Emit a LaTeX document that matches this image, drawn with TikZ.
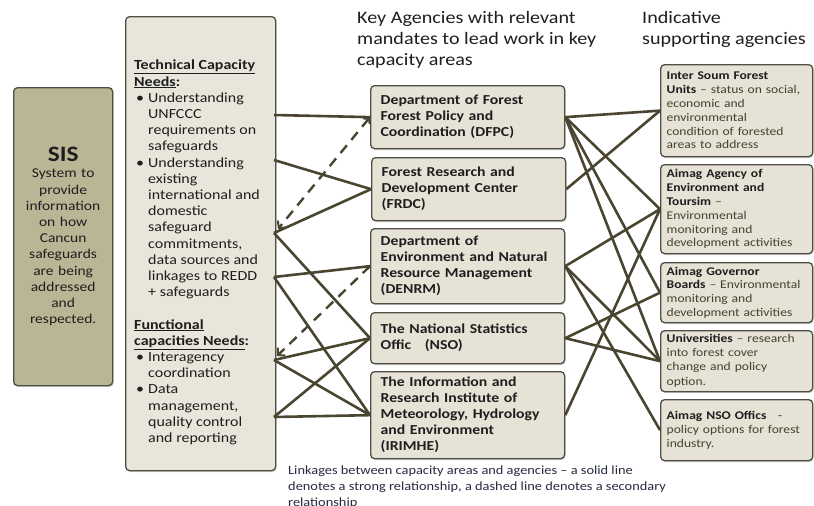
\documentclass[tikz,border=0pt]{standalone}
\usepackage{fontspec}
\setmainfont{Carlito}[FakeStretch=1.15]
\usetikzlibrary{arrows.meta,shadows}
\definecolor{sisfill}{HTML}{B9B595}
\definecolor{boxfill}{HTML}{E6E3D6}
\definecolor{needfill}{HTML}{E8E6DB}
\definecolor{boxline}{HTML}{4F4E44}
\definecolor{linkc}{HTML}{4A4530}
\definecolor{ink}{HTML}{1E1E1E}
\definecolor{soft}{HTML}{45432F}
\definecolor{capc}{HTML}{262B3F}
\newcommand\hd[1]{\textcolor{ink}{\bfseries #1}}
\newcommand\bul{\makebox[14pt][l]{\hspace{2pt}\textbullet}}
\newcommand\ind{\hspace*{14pt}}
\hyphenpenalty=10000
\begin{document}
\begin{tikzpicture}[x=1pt,y=-1pt,
  castshadow/.style={drop shadow={shadow xshift=1pt,shadow yshift=-1.5pt,opacity=0.3}},
  panel/.style={draw=boxline,line width=1.3pt,rounded corners=4pt,anchor=north west,inner ysep=0pt,castshadow},
  midbox/.style={panel,fill=boxfill,minimum width=194pt,minimum height=#1,inner xsep=10pt,text width=174pt,align=left,text=ink,font=\fontsize{13.7}{16}\selectfont\bfseries},
  sidebox/.style={panel,fill=boxfill,minimum width=152pt,minimum height=#1,inner xsep=6pt,text width=140pt,align=left,text=soft,font=\fontsize{11.8}{13.8}\selectfont},
  strongline/.style={draw=linkc,line width=2.6pt},
  weakline/.style={draw=linkc,line width=2.4pt,dash pattern=on 10pt off 7pt},
  tipend/.style={arrows={-Straight Barb[length=5pt,width=11pt,line width=2pt]}},
  tipboth/.style={arrows={Straight Barb[length=4pt,width=8pt,line width=2pt]-Straight Barb[length=5pt,width=11pt,line width=2pt]}}
]
\useasboundingbox (0,0) rectangle (814,506);

% headings
\node[anchor=north west,inner sep=0pt,align=left,text=ink,font=\fontsize{17.5}{21}\selectfont] (headkey) at (357,11.5)
  {Key Agencies with relevant\\mandates to lead work in key\\capacity areas};
\node[anchor=north west,inner sep=0pt,align=left,text=ink,font=\fontsize{17.5}{21}\selectfont] (headsup) at (642,11.5)
  {Indicative\\supporting agencies};

% SIS
\node[panel,fill=sisfill,minimum width=99pt,minimum height=298pt,inner xsep=4pt,text width=91pt,align=center,text=ink,
  font=\fontsize{13.5}{16.2}\selectfont] (sis) at (13,87)
  {{\fontsize{22}{24}\selectfont\bfseries SIS}\\System to\\provide\\information\\on how\\Cancun\\safeguards\\are being\\addressed\\and\\respected.};

% capacity needs
\node[panel,fill=needfill,minimum width=150pt,minimum height=454pt] (needs) at (125,16) {};
\node[anchor=north west,inner sep=0pt,align=left,text=ink,font=\fontsize{13.9}{16.2}\selectfont] (needstext) at (134,60)
  {{\bfseries\underline{Technical Capacity}}\\
   {\bfseries\underline{Needs}:}\\
   \bul Understanding\\
   \ind UNFCCC\\
   \ind requirements on\\
   \ind safeguards\\
   \bul Understanding\\
   \ind existing\\
   \ind international and\\
   \ind domestic\\
   \ind safeguard\\
   \ind commitments,\\
   \ind data sources and\\
   \ind linkages to REDD\\
   \ind + safeguards\\[16.2pt]
   {\bfseries\underline{Functional}}\\
   {\bfseries\underline{capacities Needs}:}\\
   \bul Interagency\\
   \ind coordination\\
   \bul Data\\
   \ind management,\\
   \ind quality control\\
   \ind and reporting};

% key agencies
\node[midbox=63pt] (dfpc) at (370,85) {Department of Forest\\Forest Policy and\\Coordination (DFPC)};
\node[midbox=63pt] (frdc) at (371,157) {Forest Research and\\Development Center\\(FRDC)};
\node[midbox=75pt] (denrm) at (370,228) {Department of\\Environment and Natural\\Resource Management\\(DENRM)};
\node[midbox=51pt] (nso) at (370,312) {The National Statistics\\Offic\ \ \ (NSO)};
\node[midbox=87pt] (irimhe) at (370,371) {The Information and\\Research Institute of\\Meteorology, Hydrology\\and Environment\\(IRIMHE)};

% supporting agencies
\node[sidebox=92pt] (soum) at (660,64) {\hd{Inter Soum Forest}\\\hd{Units} – status on social,\\economic and\\environmental\\condition of forested\\areas to address};
\node[sidebox=89pt] (agency) at (660,164) {\hd{Aimag Agency of}\\\hd{Environment and}\\\hd{Toursim} –\\Environmental\\monitoring and\\development activities};
\node[sidebox=60pt] (governor) at (660,262) {\hd{Aimag Governor}\\\hd{Boards} – Environmental\\monitoring and\\development activities};
\node[sidebox=61pt] (univ) at (660,330) {\hd{Universities} – research\\into forest cover\\change and policy\\[1.5pt]option.};
\node[sidebox=61pt] (nsooff) at (660,399) {\hd{Aimag NSO Offics}\ \ \ -\\policy options for forest\\industry.};

% caption
\node[anchor=north west,inner sep=0pt,align=left,text=capc,font=\fontsize{12.5}{16}\selectfont] (caption) at (288,465.5)
  {Linkages between capacity areas and agencies – a solid line\\denotes a strong relationship, a dashed line denotes a secondary\\relationship};

% attachment points on the needs panel
\coordinate (l1) at (274,115);
\coordinate (l2) at (274,160);
\coordinate (l3) at (274,233);
\coordinate (l4) at (274,277);
\coordinate (l5) at (274,360);
\coordinate (l6) at (274,417);
\coordinate (d1) at (278,229);
\coordinate (d2) at (277,356);

% needs to key agencies
\draw[strongline] (l1) -- (dfpc.west);
\draw[strongline] (l2) -- (frdc.west);
\draw[strongline] (l3) -- (frdc.west);
\draw[strongline] (l3) -- (nso.west);
\draw[strongline] (l4) -- (denrm.west);
\draw[strongline] (l4) -- (irimhe.west);
\draw[strongline] (l5) -- (nso.west);
\draw[strongline] (l5) -- (irimhe.west);
\draw[strongline] (l6) -- (irimhe.west);
\draw[strongline] (l6) -- (nso.west);
\draw[weakline,tipboth] (dfpc.west) -- (d1);
\draw[weakline,tipend] (denrm.west) -- (d2);

% key agencies to supporting agencies
\draw[strongline] (dfpc.east) -- (soum.west);
\draw[strongline] (dfpc.east) -- (agency.west);
\draw[strongline] (dfpc.east) -- (governor.west);
\draw[strongline] (dfpc.east) -- (univ.west);
\draw[strongline] (frdc.east) -- (soum.west);
\draw[strongline] (denrm.east) -- (agency.west);
\draw[strongline] (denrm.east) -- (univ.west);
\draw[strongline] (denrm.east) -- (nsooff.west);
\draw[strongline] (nso.east) -- (governor.west);
\draw[strongline] (nso.east) -- (univ.west);
\draw[strongline] (irimhe.east) -- (agency.west);
\end{tikzpicture}
\end{document}
